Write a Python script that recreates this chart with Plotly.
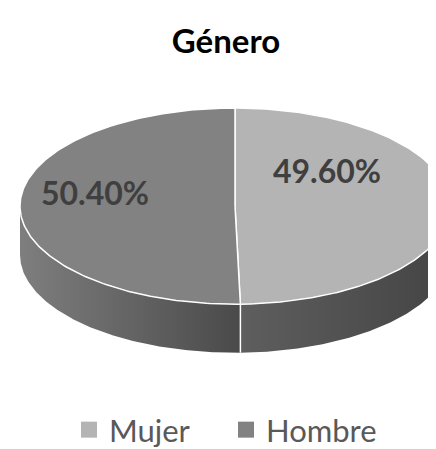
import numpy as np
import plotly.graph_objects as go

# data
labels = ["Mujer", "Hombre"]
values = [49.6, 50.4]
label_text = ["49.60%", "50.40%"]
top_colors = ["#B4B4B4", "#828282"]
side_colors = [("#5E5E5E", "#444444"), ("#7E7E7E", "#4A4A4A")]

# geometry of the 3D pie (pixel space)
W, H = 436, 449
cx, cy = 227, 204
rx, ry = 215, 101
depth = 50


def pt(theta, dy=0.0):
    # theta clockwise from 12 o'clock, screen coords (y down)
    return cx + rx * np.sin(theta), cy - ry * np.cos(theta) + dy


fig = go.Figure()

total = sum(values)
bounds = np.concatenate([[0], np.cumsum(values) / total * 2 * np.pi])

# side walls (visible between 3 o'clock and 9 o'clock)
for i in range(len(values)):
    a0 = max(bounds[i], np.pi / 2)
    a1 = min(bounds[i + 1], 3 * np.pi / 2)
    if a1 <= a0:
        continue
    th = np.linspace(a0, a1, 150)
    xt, yt = pt(th)
    xb, yb = pt(th[::-1], depth)
    fig.add_trace(go.Scatter(
        x=np.concatenate([xt, xb]), y=np.concatenate([yt, yb]),
        fill="toself", mode="lines", line=dict(width=0),
        fillgradient=dict(type="horizontal",
                          colorscale=[[0, side_colors[i][0]], [1, side_colors[i][1]]]),
        hoverinfo="skip", showlegend=False))

for a in bounds:
    if np.pi / 2 < a < 3 * np.pi / 2:
        x0, y0 = pt(a)
        fig.add_trace(go.Scatter(x=[x0, x0], y=[y0, y0 + depth], mode="lines",
                                 line=dict(color="#FFFFFF", width=1.5),
                                 hoverinfo="skip", showlegend=False))

# top faces
for i in range(len(values)):
    th = np.linspace(bounds[i], bounds[i + 1], 200)
    xs, ys = pt(th)
    xs = np.concatenate([[cx], xs, [cx]])
    ys = np.concatenate([[cy], ys, [cy]])
    fig.add_trace(go.Scatter(x=xs, y=ys, fill="toself", fillcolor=top_colors[i],
                             mode="lines", line=dict(color="#FFFFFF", width=1.5),
                             hoverinfo="skip", showlegend=False))

# legend entries
for i in range(len(values)):
    fig.add_trace(go.Scatter(x=[None], y=[None], mode="markers", name=labels[i],
                             marker=dict(symbol="square", size=16, color=top_colors[i])))

label_pos = [(319, 167), (87, 190)]
for i in range(len(values)):
    fig.add_annotation(x=label_pos[i][0], y=label_pos[i][1], text="<b>%s</b>" % label_text[i],
                       showarrow=False, font=dict(family="Lato", size=32, color="#3F3F3F"))

fig.update_layout(
    width=W, height=H,
    margin=dict(l=0, r=0, t=0, b=0),
    paper_bgcolor="white", plot_bgcolor="white",
    title=dict(text="<b>Género</b>", x=0.5, xanchor="center", y=1 - 33 / H, yanchor="middle",
               font=dict(family="Lato", size=33, color="#000000")),
    xaxis=dict(range=[0, W], visible=False, fixedrange=True),
    yaxis=dict(range=[H, 0], visible=False, fixedrange=True),
    legend=dict(orientation="h", x=0.5, xanchor="center", y=1 - 435 / H, yanchor="middle",
                font=dict(family="Lato", size=31, color="#595959"), itemwidth=30,
                entrywidth=112),
    showlegend=True,
)

fig.write_html("out.html")
